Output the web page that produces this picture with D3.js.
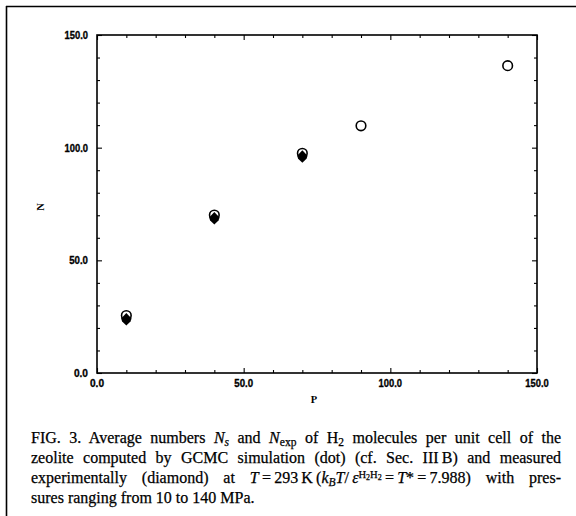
<!DOCTYPE html>
<html>
<head>
<meta charset="utf-8">
<script src="https://cdn.jsdelivr.net/npm/d3@7"></script>
<style>
  html, body { margin: 0; padding: 0; background: #fff; }
  svg { display: block; }
</style>
</head>
<body>
<svg id="fig" width="576" height="516"></svg>
<script>
// Pressure P (MPa) and number of H2 molecules per unit cell N
const simP = [10, 40, 70, 90, 140];
const simN = [25.5, 70.1, 97.5, 109.7, 136.4];
const expP = [10, 40, 70];
const expN = [24.0, 68.8, 96.2];
const xTickLabels = [0, 50, 100, 150];
const yTickLabels = [0, 50, 100, 150];
const minorTicks = d3.range(0, 151, 10);

const svg = d3.select("#fig");
const plot = { left: 97, right: 537, top: 35, bottom: 373 };

const x = d3.scaleLinear().domain([0, 150]).range([plot.left, plot.right]);
const y = d3.scaleLinear().domain([0, 150]).range([plot.bottom, plot.top]);

// page frame (top and left rules)
svg.append("line").attr("x1", 6).attr("x2", 576).attr("y1", 6.5).attr("y2", 6.5)
  .attr("stroke", "#000").attr("stroke-width", 1.6);
svg.append("line").attr("x1", 6.5).attr("x2", 6.5).attr("y1", 6).attr("y2", 516)
  .attr("stroke", "#000").attr("stroke-width", 1.6);

const tickFont = "'Liberation Sans', Arial, sans-serif";

// inward ticks on all four sides; majors every 50
function styleTicks(g, dir) {
  g.select(".domain").remove();
  g.selectAll(".tick line")
    .attr("stroke", "#000").attr("stroke-width", 1.1)
    .each(function(d) {
      const len = d % 50 === 0 ? 5 : 3;
      const l = d3.select(this);
      if (dir === "b") l.attr("y2", -len);
      if (dir === "t") l.attr("y2", len);
      if (dir === "l") l.attr("x2", len);
      if (dir === "r") l.attr("x2", -len);
    });
}

svg.append("g").attr("transform", `translate(0,${plot.bottom})`)
  .call(d3.axisBottom(x).tickValues(minorTicks).tickSize(-3).tickFormat(""))
  .call(g => styleTicks(g, "b"));
svg.append("g").attr("transform", `translate(0,${plot.top})`)
  .call(d3.axisTop(x).tickValues(minorTicks).tickSize(-3).tickFormat(""))
  .call(g => styleTicks(g, "t"));
svg.append("g").attr("transform", `translate(${plot.left},0)`)
  .call(d3.axisLeft(y).tickValues(minorTicks).tickSize(-3).tickFormat(""))
  .call(g => styleTicks(g, "l"));
svg.append("g").attr("transform", `translate(${plot.right},0)`)
  .call(d3.axisRight(y).tickValues(minorTicks).tickSize(-3).tickFormat(""))
  .call(g => styleTicks(g, "r"));

// plot box
svg.append("rect")
  .attr("x", plot.left).attr("y", plot.top)
  .attr("width", plot.right - plot.left).attr("height", plot.bottom - plot.top)
  .attr("fill", "none").attr("stroke", "#000").attr("stroke-width", 1.6);

// tick labels, condensed to the narrow face of the printed figure
const labelWidth = d => d.toFixed(1).length * 4.7;
function tickText(sel) {
  sel.attr("font-family", tickFont).attr("font-weight", "bold").attr("font-size", 11.5)
    .attr("stroke", "#000").attr("stroke-width", 0.35)
    .attr("textLength", labelWidth).attr("lengthAdjust", "spacingAndGlyphs")
    .text(d => d.toFixed(1));
}
svg.append("g").selectAll("text").data(xTickLabels).join("text")
  .attr("x", d => x(d)).attr("y", plot.bottom + 14)
  .attr("text-anchor", "middle")
  .call(tickText);
svg.append("g").selectAll("text").data(yTickLabels).join("text")
  .attr("x", plot.left - 9).attr("y", d => y(d) + 4)
  .attr("text-anchor", "end")
  .call(tickText);

// axis titles
svg.append("text")
  .attr("transform", `translate(44,207) rotate(-90)`)
  .attr("text-anchor", "middle")
  .attr("font-family", "'Liberation Serif', serif").attr("font-weight", "bold").attr("font-size", 10.5)
  .text("N");
svg.append("text")
  .attr("x", 314).attr("y", 403)
  .attr("text-anchor", "middle")
  .attr("font-family", "'Liberation Serif', serif").attr("font-weight", "bold").attr("font-size", 10.5)
  .text("P");

// simulated values: open circles
svg.append("g").selectAll("circle").data(simP).join("circle")
  .attr("cx", d => x(d)).attr("cy", (d, i) => y(simN[i]))
  .attr("r", 4.8)
  .attr("fill", "#fff").attr("stroke", "#000").attr("stroke-width", 1.6);

// measured values: filled diamonds
const diamond = "M0,-6L5.2,-0.5L4.2,2.5L0,6.5L-4.2,2.5L-5.2,-0.5Z";
svg.append("g").selectAll("path").data(expP).join("path")
  .attr("transform", (d, i) => `translate(${x(d)},${y(expN[i])})`)
  .attr("d", diamond)
  .attr("fill", "#000");

// caption
const capFont = "'Liberation Serif', 'Times New Roman', serif";
const capSize = 16;
const capLeft = 31, capRight = 561;
const lines = [
  { y: 443, justify: true, segs: [
    { t: "FIG. 3. Average numbers " },
    { t: "N", i: 1 }, { t: "s", i: 1, o: 3, s: 0.72 },
    { t: " and " },
    { t: "N", i: 1 }, { t: "exp", o: 3, s: 0.72 },
    { t: " of H" }, { t: "2", o: 3, s: 0.72 },
    { t: " molecules per unit cell of the" } ] },
  { y: 463, justify: true, segs: [
    { t: "zeolite computed by GCMC simulation (dot) (cf. Sec. III\u2009B) and measured" } ] },
  { y: 483, justify: true, segs: [
    { t: "experimentally (diamond) at " },
    { t: "T", i: 1 }, { t: "\u2009=\u2009293\u2009K\u2009(" },
    { t: "k", i: 1 }, { t: "B", i: 1, o: 3, s: 0.72 },
    { t: "T", i: 1 }, { t: "/\u2009" },
    { t: "\u03b5", i: 1 },
    { t: "H", o: -5, s: 0.66 }, { t: "2", o: -3, s: 0.5 },
    { t: "H", o: -5, s: 0.66 }, { t: "2", o: -3, s: 0.5 },
    { t: "\u2009=\u2009" }, { t: "T", i: 1 }, { t: "*\u2009=\u20097.988) with pres-" } ] },
  { y: 503, justify: false, segs: [
    { t: "sures ranging from 10 to 140 MPa." } ] }
];

lines.forEach(line => {
  const txt = svg.append("text")
    .attr("x", capLeft).attr("y", line.y)
    .attr("font-family", capFont).attr("font-size", capSize).attr("fill", "#000")
    .attr("stroke", "#000").attr("stroke-width", 0.25);
  let cur = 0;
  line.segs.forEach(sg => {
    const off = sg.o || 0;
    txt.append("tspan")
      .attr("dy", off - cur)
      .attr("font-size", capSize * (sg.s || 1))
      .attr("font-style", sg.i ? "italic" : "normal")
      .text(sg.t);
    cur = off;
  });
  if (line.justify) {
    const len = txt.node().getComputedTextLength();
    const spaces = line.segs.map(s => s.t).join("").split(" ").length - 1;
    const extra = (capRight - capLeft - len) / Math.max(spaces, 1);
    txt.attr("word-spacing", extra);
  }
});
</script>
</body>
</html>
